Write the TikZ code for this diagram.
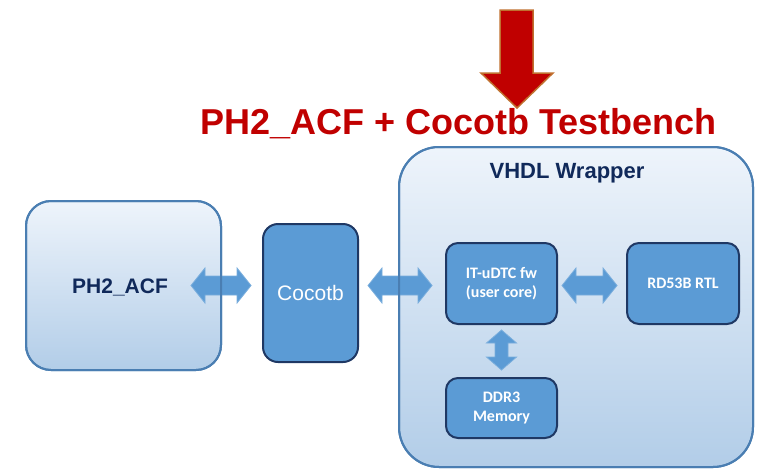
\documentclass[tikz,border=0pt]{standalone}
\usepackage{fontspec}
\setmainfont{Liberation Sans}
\newfontfamily\calfont{Carlito}
\usetikzlibrary{calc}
\definecolor{titlered}{HTML}{C00000}
\definecolor{arrowedge}{HTML}{C0702F}
\definecolor{boxedge}{HTML}{4A7EB2}
\definecolor{boxtop}{HTML}{EEF4FB}
\definecolor{boxbot}{HTML}{B2CDE8}
\definecolor{blockfill}{HTML}{5B9BD5}
\definecolor{blockedge}{HTML}{1F3864}
\definecolor{navytext}{HTML}{10295A}
\definecolor{dbledge}{HTML}{7AAEDD}
\tikzset{
  bigbox/.style={draw=boxedge, line width=2pt, top color=boxtop, bottom color=boxbot,
    rounded corners=#1, outer sep=0pt, inner sep=0pt},
  bigedge/.style={draw=boxedge, line width=2pt, rounded corners=#1},
  block/.style={draw=blockedge, line width=2pt, fill=blockfill, rounded corners=12pt,
    text=white, font=\calfont\bfseries\fontsize{16}{19}\selectfont, align=center,
    inner sep=0pt, outer sep=0pt},
  dbl/.style={fill=blockfill, draw=dbledge, line width=0.8pt, line join=miter},
  navylabel/.style={text=navytext, font=\bfseries\fontsize{21}{24}\selectfont},
}
\newcommand\dblarr[5]{% start, end, head length, head half width, shaft half width
  \filldraw[dbl] (#1)
    -- ($(#1)!#3!(#2)!#4!90:(#2)$)
    -- ($(#1)!#3!(#2)!#5!90:(#2)$)
    -- ($(#2)!#3!(#1)!#5!-90:(#1)$)
    -- ($(#2)!#3!(#1)!#4!-90:(#1)$)
    -- (#2)
    -- ($(#2)!#3!(#1)!#4!90:(#1)$)
    -- ($(#2)!#3!(#1)!#5!90:(#1)$)
    -- ($(#1)!#3!(#2)!#5!-90:(#2)$)
    -- ($(#1)!#3!(#2)!#4!-90:(#2)$)
    -- cycle;}
\begin{document}
\begin{tikzpicture}[x=1pt, y=-1pt]
\useasboundingbox (0,0) rectangle (759,469);

% red arrow
\filldraw[fill=titlered, draw=arrowedge, line width=1.5pt, line join=miter]
  (500,10) -- (533,10) -- (533,73) -- (553,73) -- (517,108) -- (481,73) -- (500,73) -- cycle;

% title
\node[text=titlered, font=\bfseries\fontsize{36}{40}\selectfont, anchor=base, inner sep=0pt]
  (title) at (458.5,134) {PH2\_ACF + Cocotb Testbench};

% big boxes
\node[bigbox=25pt, minimum width=195pt, minimum height=169pt] (ph2) at (123.5,285.5) {};
\node[navylabel] (ph2lbl) at (120,287) {PH2\_ACF};
\node[bigbox=40pt, minimum width=354pt, minimum height=320pt] (vhdl) at (576,307) {};
\node[navylabel, font=\bfseries\fontsize{22}{25}\selectfont] (vhdllbl) at (567,173) {VHDL Wrapper};

% blocks
\node[block, rounded corners=15pt, minimum width=95pt, minimum height=138pt,
  font=\fontsize{21}{24}\selectfont] (coc) at (310.5,293) {Cocotb};
\node[block, minimum width=111pt, minimum height=81pt] (itu) at (501.5,283.5) {IT-uDTC fw\\(user core)};
\node[block, minimum width=112pt, minimum height=81pt] (rd) at (683,283.5) {RD53B RTL};
\node[block, minimum width=111pt, minimum height=60pt] (ddr) at (501.5,408) {DDR3\\Memory};

% connector end points
\coordinate (a1s) at ($(ph2.east)+(-30,0)$);
\coordinate (a1e) at ($(coc.west |- ph2.east)+(-12,0)$);
\coordinate (a2s) at ($(coc.east |- itu.west)+(10,2)$);
\coordinate (a2e) at ($(itu.west)+(-14,2)$);
\coordinate (a3s) at ($(itu.east)+(5,2)$);
\coordinate (a3e) at ($(rd.west)+(-10,2)$);
\coordinate (a4s) at ($(itu.south)+(0,6)$);
\coordinate (a4e) at ($(ddr.north)+(0,-8)$);

\dblarr{a1s}{a1e}{14pt}{17.5pt}{9.5pt}
\dblarr{a2s}{a2e}{14pt}{17.5pt}{9.5pt}
\dblarr{a3s}{a3e}{14pt}{17.5pt}{9.5pt}
\dblarr{a4s}{a4e}{13pt}{15pt}{6.5pt}

% borders of big boxes on top of the arrows
\draw[bigedge=25pt] (ph2.south west) rectangle (ph2.north east);
\draw[bigedge=40pt] (vhdl.south west) rectangle (vhdl.north east);
\end{tikzpicture}
\end{document}
